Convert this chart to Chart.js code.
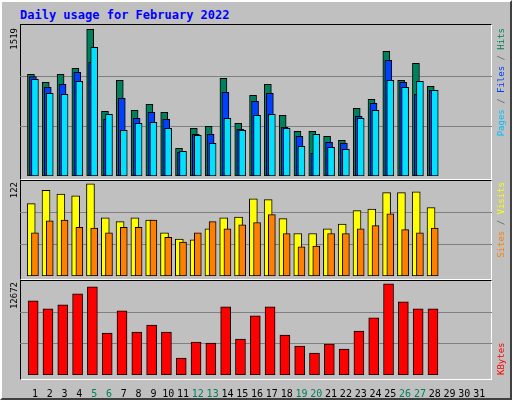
<!DOCTYPE html>
<html>
<head>
<meta charset="utf-8">
<script src="https://cdn.jsdelivr.net/npm/chart.js@4/dist/chart.umd.min.js"></script>
<style>
body { margin: 0; background: #c0c0c0; }
#frame { position: relative; width: 508px; height: 396px; background: #c0c0c0;
  border-top: 2px solid #ffffff; border-left: 2px solid #ffffff; border-right: 2px solid #404040; border-bottom: 2px solid #404040; }
#title { position: absolute; left: 18px; top: 6px; font: bold 12px "DejaVu Sans Mono", monospace; color: #0000ff; }
.panel { position: absolute; left: 18px; width: 472px; box-sizing: border-box;
  border-top: 1px solid #000; border-left: 1px solid #000; border-right: 1px solid #fff; border-bottom: 1px solid #fff; }
canvas { position: absolute; left: -2px; }
</style>
</head>
<body>
<div id="frame">
  <div id="title">Daily usage for February 2022</div>
  <div class="panel" style="top:22px;height:156px"></div>
  <div class="panel" style="top:178px;height:100px"></div>
  <div class="panel" style="top:278px;height:100px"></div>
  <canvas id="c1" width="512" height="150" style="top:24px"></canvas>
  <canvas id="c2" width="512" height="96" style="top:178px"></canvas>
  <canvas id="c3" width="512" height="117" style="top:278px"></canvas>
</div>
<script>
const days = [1,2,3,4,5,6,7,8,9,10,11,12,13,14,15,16,17,18,19,20,21,22,23,24,25,26,27,28]
const dayLabels = [1,2,3,4,5,6,7,8,9,10,11,12,13,14,15,16,17,18,19,20,21,22,23,24,25,26,27,28,29,30,31]
const weekendDays = [5,6,12,13,19,20,26,27]

const hits = [1030,949,1030,1090,1485,655,969,665,726,645,280,483,503,989,533,817,928,614,452,452,402,361,685,776,1263,969,1141,908]
const files = [1006,898,928,1050,1151,574,787,584,645,574,240,422,422,847,473,756,837,493,402,230,341,331,604,736,1171,949,827,868]
const pages = [979,837,827,959,1303,625,463,533,544,483,250,412,331,584,463,614,625,483,300,422,290,270,584,665,969,898,959,868]
const visits = [92,109,104,102,117,74,69,74,71,55,47,46,60,74,75,98,97,73,54,54,60,66,83,85,106,106,107,87]
const sites = [55,70,71,62,61,55,62,62,71,49,43,55,69,60,65,68,78,54,37,38,54,54,60,64,79,59,55,61]
const kbytes = [9879,8811,9345,10814,11748,5607,8544,5741,6675,5741,2270,4406,4272,9078,4806,7877,9078,5340,3872,2937,4139,3471,5874,7610,12149,9746,8811,8811]

const maxHits = 1519
const maxVisits = 122
const maxKbytes = 12672

const mono = '"DejaVu Sans Mono", monospace'

function pts(values, shift) {
    return values.map((v, i) => ({ x: days[i] + shift, y: v }))
}

function bars(label, values, shift, color, width, order) {
    return { label: label, data: pts(values, shift), backgroundColor: color, borderColor: "#000",
        borderWidth: 1, borderSkipped: false, barThickness: width, grouped: false, order: order }
}

// grid lines at 1/3 and 2/3 of the max, drawn behind the bars
const thirds = {
    id: "thirds",
    beforeDatasetsDraw(chart) {
        const ctx = chart.ctx
        const a = chart.chartArea
        const y = chart.scales.y
        ctx.save()
        ctx.strokeStyle = "#808080"
        ctx.lineWidth = 1
        ;[y.max / 3, 2 * y.max / 3].forEach(v => {
            let py = Math.round(y.getPixelForValue(v)) + 0.5
            ctx.beginPath()
            ctx.moveTo(a.left - 2, py)
            ctx.lineTo(a.right + 1, py)
            ctx.stroke()
        })
        ctx.restore()
    }
}

// rotated side labels: left max value, right coloured legend
function sideLabels(maxText, parts, atBottom) {
    return {
        id: "side",
        afterDraw(chart) {
            const ctx = chart.ctx
            const a = chart.chartArea
            ctx.save()
            ctx.font = "9px " + mono
            ctx.textBaseline = "middle"
            ctx.fillStyle = "#000"
            ctx.translate(15, a.top + 2)
            ctx.rotate(-Math.PI / 2)
            ctx.textAlign = "right"
            ctx.fillText(maxText, 0, 0)
            ctx.restore()

            ctx.save()
            ctx.font = "9px " + mono
            ctx.textBaseline = "middle"
            ctx.textAlign = "left"
            let w = ctx.measureText(parts.map(p => p[0]).join("")).width
            ctx.translate(502, atBottom ? a.bottom : a.top + 2 + w)
            ctx.rotate(-Math.PI / 2)
            let x = 0
            parts.forEach(p => {
                ctx.fillStyle = p[1]
                ctx.fillText(p[0], x, 0)
                x += ctx.measureText(p[0]).width
            })
            ctx.restore()
        }
    }
}

function options(max, showX) {
    return {
        responsive: false,
        animation: false,
        layout: { padding: { left: 22, right: 21, top: 0, bottom: 0 } },
        plugins: { legend: { display: false }, tooltip: { enabled: false } },
        scales: {
            x: {
                type: "linear", min: 0.126, max: 31.8, display: showX, offset: false,
                grid: { display: false }, border: { display: false },
                afterBuildTicks: s => { s.ticks = dayLabels.map(d => ({ value: d })) },
                afterFit: s => { if (showX) s.height = 22 },
                ticks: {
                    autoSkip: false, maxRotation: 0, padding: 5,
                    font: { family: mono, size: 10 },
                    color: c => weekendDays.includes(c.tick.value) ? "#00805c" : "#000",
                    callback: v => String(v)
                }
            },
            y: { min: 0, max: max, display: false }
        }
    }
}

let top1 = [["Pages", "#00c0ff"], [" / ", "#606060"], ["Files", "#0040ff"], [" / ", "#606060"], ["Hits", "#00805c"]]
new Chart(document.getElementById("c1"), {
    type: "bar",
    data: { datasets: [
        bars("Pages", pages, 0, "#00e0ff", 7, 0),
        bars("Files", files, -0.135, "#0040ff", 7, 1),
        bars("Hits", hits, -0.27, "#00805c", 7, 2)
    ] },
    options: options(maxHits, false),
    plugins: [thirds, sideLabels("1519", top1, false)]
})

let mid = [["Sites", "#ff8000"], [" / ", "#606060"], ["Visits", "#ffff00"]]
new Chart(document.getElementById("c2"), {
    type: "bar",
    data: { datasets: [
        bars("Sites", sites, 0, "#ff8000", 7, 0),
        bars("Visits", visits, -0.25, "#ffff00", 8, 1)
    ] },
    options: options(maxVisits, false),
    plugins: [thirds, sideLabels("122", mid, false)]
})

let bot = [["KBytes", "#ff0000"]]
new Chart(document.getElementById("c3"), {
    type: "bar",
    data: { datasets: [
        bars("KBytes", kbytes, -0.12, "#ff0000", 10, 0)
    ] },
    options: options(maxKbytes, true),
    plugins: [thirds, sideLabels("12672", bot, true)]
})
</script>
</body>
</html>
